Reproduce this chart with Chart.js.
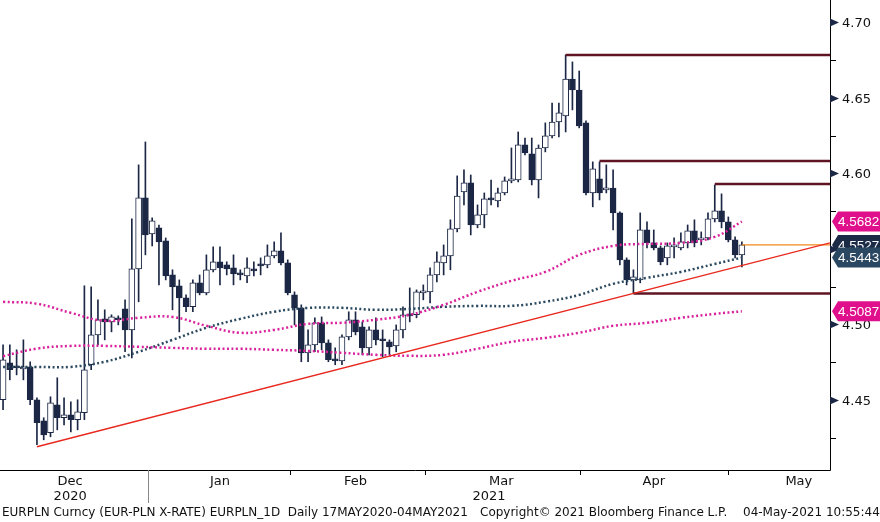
<!DOCTYPE html>
<html><head><meta charset="utf-8">
<script src="https://cdn.jsdelivr.net/npm/chart.js@4.4.1/dist/chart.umd.min.js"></script>
<style>
html,body{margin:0;padding:0;background:#fff;width:880px;height:522px;overflow:hidden;font-family:"DejaVu Sans",sans-serif}
#wrap{position:absolute;left:0;top:0;width:880px;height:522px}
.ft{position:absolute;top:505px;font-size:12px;color:#111;white-space:pre}
</style></head><body>
<div id="wrap"><canvas id="c" width="880" height="522"></canvas></div>
<div class="ft" style="left:2px">EURPLN Curncy (EUR-PLN X-RATE) EURPLN_1D  Daily 17MAY2020-04MAY2021</div>
<div class="ft" style="left:480px">Copyright© 2021 Bloomberg Finance L.P.</div>
<div class="ft" style="left:743px">04-May-2021 10:55:44</div>
<script>
// OHLC daily candles
const opens=[4.4501,4.4746,4.4726,4.4706,4.4719,4.4501,4.4362,4.4283,4.4468,4.4382,4.4402,4.4369,4.4415,4.4733,4.4931,4.5037,4.5017,4.5044,4.5103,4.4964,
4.5368,4.5838,4.5600,4.5640,4.5554,4.5328,4.5256,4.5176,4.5117,4.5276,4.5209,4.5362,4.5415,4.5395,4.5375,4.5342,4.5322,4.5368,4.5401,4.5395,
4.5454,4.5487,4.5408,4.5196,4.5110,4.4812,4.4865,4.5011,4.4878,4.4772,4.4759,4.4918,4.5031,4.4984,4.4845,4.4964,4.4905,4.4885,4.4858,4.4964,
4.5070,4.5064,4.5209,4.5216,4.5328,4.5408,4.5454,4.5633,4.5878,4.5938,4.5659,4.5726,4.5838,4.5818,4.5871,4.5951,4.5957,4.6189,4.6130,4.5957,
4.6169,4.6249,4.6341,4.6381,4.6626,4.6553,4.6335,4.5871,4.5964,4.5891,4.5904,4.5739,4.5428,4.5295,4.5295,4.5626,4.5540,4.5507,4.5441,4.5514,
4.5507,4.5540,4.5620,4.5560,4.5573,4.5699,4.5752,4.5679,4.5560,4.5461];
const highs=[4.4865,4.4865,4.4832,4.4898,4.4753,4.4514,4.4382,4.4521,4.4647,4.4514,4.4488,4.4501,4.5256,4.5249,4.5163,4.5097,4.5064,4.5057,4.5163,4.5699,
4.6057,4.6209,4.5706,4.5659,4.5573,4.5362,4.5295,4.5196,4.5295,4.5328,4.5461,4.5514,4.5514,4.5415,4.5461,4.5362,4.5441,4.5415,4.5441,4.5527,
4.5547,4.5607,4.5428,4.5216,4.5130,4.4964,4.5044,4.5050,4.4898,4.4845,4.4931,4.5084,4.5084,4.5017,4.4984,4.5044,4.4964,4.4898,4.4997,4.5117,
4.5242,4.5229,4.5262,4.5375,4.5481,4.5527,4.5693,4.5984,4.6024,4.5990,4.5792,4.5871,4.5957,4.5904,4.5977,4.6169,4.6275,4.6235,4.6235,4.6189,
4.6335,4.6467,4.6467,4.6785,4.6739,4.6679,4.6348,4.6077,4.6077,4.6057,4.6024,4.5746,4.5441,4.5362,4.5739,4.5679,4.5626,4.5520,4.5540,4.5573,
4.5607,4.5659,4.5693,4.5613,4.5739,4.5924,4.5865,4.5712,4.5580,4.5547];
const lows=[4.4435,4.4633,4.4666,4.4633,4.4468,4.4203,4.4236,4.4256,4.4302,4.4335,4.4289,4.4302,4.4369,4.4700,4.4865,4.4898,4.4951,4.4997,4.4819,4.4779,
4.5150,4.5461,4.5520,4.5262,4.5295,4.5097,4.4951,4.5084,4.5084,4.5196,4.5196,4.5348,4.5262,4.5328,4.5262,4.5295,4.5276,4.5322,4.5328,4.5375,
4.5441,4.5395,4.5196,4.4997,4.4753,4.4753,4.4819,4.4832,4.4753,4.4733,4.4733,4.4898,4.4931,4.4799,4.4799,4.4865,4.4786,4.4799,4.4819,4.4911,
4.5017,4.5044,4.5163,4.5143,4.5282,4.5328,4.5362,4.5613,4.5792,4.5593,4.5640,4.5640,4.5792,4.5779,4.5858,4.5938,4.5944,4.6123,4.5924,4.5838,
4.6143,4.6235,4.6242,4.6275,4.6421,4.6302,4.5858,4.5779,4.5825,4.5871,4.5626,4.5395,4.5262,4.5209,4.5276,4.5507,4.5494,4.5395,4.5395,4.5441,
4.5494,4.5507,4.5514,4.5527,4.5560,4.5679,4.5640,4.5547,4.5441,4.5381];
const closes=[4.4766,4.4700,4.4713,4.4719,4.4501,4.4349,4.4269,4.4481,4.4382,4.4402,4.4369,4.4422,4.4700,4.4931,4.5031,4.5017,4.5050,4.5031,4.4964,4.5368,
4.5838,4.5593,4.5686,4.5547,4.5322,4.5249,4.5176,4.5117,4.5276,4.5209,4.5362,4.5415,4.5375,4.5368,4.5335,4.5328,4.5375,4.5355,4.5388,4.5454,
4.5487,4.5408,4.5209,4.5110,4.4812,4.4865,4.5011,4.4878,4.4766,4.4759,4.4918,4.5031,4.4951,4.4845,4.4964,4.4898,4.4892,4.4852,4.4964,4.5064,
4.5057,4.5216,4.5223,4.5328,4.5415,4.5454,4.5633,4.5851,4.5938,4.5659,4.5726,4.5832,4.5825,4.5871,4.5951,4.5964,4.6189,4.6136,4.5957,4.6169,
4.6249,4.6341,4.6401,4.6626,4.6553,4.6315,4.5871,4.6030,4.5871,4.5904,4.5739,4.5428,4.5295,4.5315,4.5626,4.5540,4.5507,4.5415,4.5520,4.5527,
4.5547,4.5620,4.5540,4.5573,4.5699,4.5752,4.5679,4.5560,4.5461,4.5527];
// moving averages sampled every 5 sessions (last at 109)
const maIdx=[0,5,10,15,20,25,30,35,40,45,50,55,60,65,70,75,80,85,90,95,100,105,109];
const maUpper=[4.5150,4.5137,4.5077,4.5024,4.5044,4.5050,4.4991,4.4945,4.4964,4.5004,4.5011,4.5031,4.5064,4.5130,4.5216,4.5289,4.5348,4.5461,4.5520,4.5534,4.5540,4.5580,4.5682];
const maMid=[4.4719,4.4719,4.4719,4.4753,4.4819,4.4898,4.4978,4.5037,4.5084,4.5110,4.5110,4.5097,4.5103,4.5117,4.5123,4.5123,4.5150,4.5196,4.5269,4.5309,4.5348,4.5401,4.5443];
const maLower=[4.4790,4.4840,4.4858,4.4858,4.4852,4.4845,4.4839,4.4839,4.4832,4.4825,4.4812,4.4799,4.4792,4.4799,4.4839,4.4885,4.4911,4.4945,4.4991,4.5011,4.5044,4.5070,4.5087];
// levels: [start index, price]
const levels=[[83,4.6785],[88,4.6083],[105,4.5931],[93,4.5205]];
const trend=[[5,4.4190],[122,4.5540]];
const lastPrice=4.5527;
const months=[[9.9,'Dec'],[32,'Jan'],[52,'Feb'],[73.5,'Mar'],[96,'Apr'],[117.4,'May']];
const monthBounds=[21.4,42.3,62.2,85.1,106.9];
const years=[[9.9,'2020'],[71.7,'2021']];
const tags=[[4.5682,'#e0108c'],[4.5527,'#1b2a45'],[4.5443,'#2a4862'],[4.5087,'#e0108c']];

const NAVY='#1b2744';
const n=opens.length;
const idx=[...Array(n).keys()];
const up=idx.map(i=>closes[i]>=opens[i]);
const ds=[];
ds.push({type:'bar',data:idx.map(i=>({x:i,y:[lows[i],highs[i]]})),backgroundColor:NAVY,borderWidth:0,barThickness:1,grouped:false,order:5});
ds.push({type:'bar',data:idx.map(i=>({x:i,y:[Math.min(opens[i],closes[i]),Math.max(opens[i],closes[i])]})),
 backgroundColor:idx.map(i=>up[i]?'#ffffff':NAVY),borderColor:NAVY,borderWidth:1,borderSkipped:false,barThickness:6,grouped:false,order:4,minBarLength:2});
const mk=(arr,col)=>({type:'line',data:maIdx.map((x,k)=>({x,y:arr[k]})),borderColor:col,borderWidth:2.5,borderDash:[2,2.5],pointRadius:0,tension:0.4,order:3,fill:false});
ds.push(mk(maUpper,'#d9229b'));ds.push(mk(maLower,'#d9229b'));ds.push(mk(maMid,'#2b4a60'));
levels.forEach(l=>ds.push({type:'line',data:[{x:l[0],y:l[1]},{x:122,y:l[1]}],borderColor:'#5e1422',borderWidth:2.5,pointRadius:0,order:2}));
ds.push({type:'line',data:trend.map(t=>({x:t[0],y:t[1]})),borderColor:'#e8281e',borderWidth:1.3,pointRadius:0,order:1});
ds.push({type:'line',data:[{x:n-1,y:lastPrice},{x:122,y:lastPrice}],borderColor:'#f28a1e',borderWidth:1.2,pointRadius:0,order:1});

const deco={id:'deco',afterDraw(ch){
 const c=ch.ctx,xs=ch.scales.x,ys=ch.scales.y,a=ch.chartArea;
 c.save();c.strokeStyle='#000';c.lineWidth=1;
 c.beginPath();c.moveTo(0,a.bottom+0.5);c.lineTo(a.right+0.5,a.bottom+0.5);c.lineTo(a.right+0.5,0);c.stroke();
 monthBounds.forEach((m,k)=>{const x=Math.round(xs.getPixelForValue(m))+0.5;c.beginPath();c.moveTo(x,a.bottom);c.lineTo(x,a.bottom+(k===0?33:5));c.strokeStyle=k===0?'#888':'#000';c.stroke();});
 c.fillStyle='#111';c.font='13px "DejaVu Sans"';c.textAlign='center';c.textBaseline='middle';
 months.forEach(m=>c.fillText(m[1],xs.getPixelForValue(m[0]),a.bottom+12));
 years.forEach(m=>c.fillText(m[1],xs.getPixelForValue(m[0]),a.bottom+27));
 c.textAlign='left';c.strokeStyle='#000';
 for(let k=0;k<=12;k++){const v=4.40+k*0.025;const y=Math.round(ys.getPixelForValue(v))+0.5;if(y<a.top||y>a.bottom)continue;
   const major=k%2===0;
   if(major){c.beginPath();c.moveTo(a.right,y-4);c.lineTo(a.right+9,y);c.lineTo(a.right,y+4);c.closePath();c.fillStyle='#1b2744';c.fill();
     c.fillStyle='#111';c.fillText(v.toFixed(2),a.right+12,y+1);}
   else{c.beginPath();c.moveTo(a.right,y);c.lineTo(a.right+6,y);c.stroke();}
 }
 c.font='13.5px "Liberation Sans"';
 tags.forEach(t=>{const y=ys.getPixelForValue(t[0]);const x0=a.right+2;
   c.beginPath();c.moveTo(x0,y);c.lineTo(x0+6,y-10);c.lineTo(880,y-10);c.lineTo(880,y+10);c.lineTo(x0+6,y+10);c.closePath();
   c.fillStyle=t[1];c.fill();c.fillStyle='#fff';c.fillText(t[0].toFixed(4),x0+6,y+1);});
 c.restore();}};

new Chart(document.getElementById('c'),{type:'bar',data:{datasets:ds},
 options:{responsive:false,animation:false,events:[],
  layout:{padding:{left:0,top:0,bottom:52,right:0}},
  plugins:{legend:{display:false},tooltip:{enabled:false}},
  scales:{
   x:{type:'linear',min:-0.45,max:122,display:false,offset:false},
   y:{type:'linear',position:'right',min:4.4036,max:4.7149,display:true,
      grid:{display:false},border:{display:false},ticks:{display:false},
      afterFit(s){s.width=50;}}
  }},plugins:[deco]});
</script></body></html>
